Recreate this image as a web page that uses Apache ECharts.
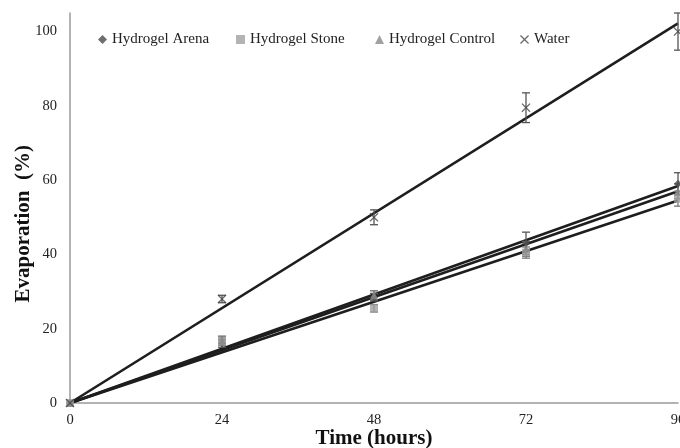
<!DOCTYPE html>
<html>
<head>
<meta charset="utf-8">
<script src="https://cdn.jsdelivr.net/npm/echarts@6/dist/echarts.min.js"></script>
<style>html,body{margin:0;padding:0;background:#fff}#c{width:680px;height:448px}</style>
</head>
<body>
<div id="c"></div>
<script>
var hours = [0, 24, 48, 72, 96];
var xTicks = [0, 24, 48, 72, 96];
var yTicks = [0, 20, 40, 60, 80, 100];
var arena = [0, 16, 28.5, 43, 59];
var arenaErr = [0, 1, 1, 3, 3];
var stone = [0, 16.5, 25.5, 40.5, 55];
var stoneErr = [0, 1, 1, 1.5, 2];
var control = [0, 17, 29, 41.5, 57];
var controlErr = [0, 1, 1.2, 2, 2];
var water = [0, 28, 50, 79.5, 100];
var waterErr = [0, 1, 2, 4, 5];
var names = ['Hydrogel Arena', 'Hydrogel Stone', 'Hydrogel Control', 'Water'];
var legendLeft = [93, 231, 370, 515];

var X_PATH = 'path://M0,1L1,0L5,4L9,0L10,1L6,5L10,9L9,10L5,6L1,10L0,9L4,5Z';
var NB = '\u00a0';

function pts(v) { return hours.map(function (h, i) { return [h, v[i]]; }); }
function errPts(v, e) { return hours.map(function (h, i) { return [h, v[i] - e[i], v[i] + e[i]]; }); }
function trend(v) {
  var sxy = 0, sxx = 0;
  hours.forEach(function (h, i) { sxy += h * v[i]; sxx += h * h; });
  var k = sxy / sxx;
  return [[hours[0], k * hours[0]], [hours[hours.length - 1], k * hours[hours.length - 1]]];
}
function errSeries(v, e, color) {
  return {
    type: 'custom', silent: true, z: 3,
    data: errPts(v, e),
    renderItem: function (params, api) {
      if (api.value(2) - api.value(1) <= 0) return null;
      var lo = api.coord([api.value(0), api.value(1)]);
      var hi = api.coord([api.value(0), api.value(2)]);
      var w = 4;
      var st = { stroke: color, lineWidth: 1.3 };
      return { type: 'group', children: [
        { type: 'line', shape: { x1: lo[0], y1: lo[1], x2: hi[0], y2: hi[1] }, style: st },
        { type: 'line', shape: { x1: lo[0] - w, y1: lo[1], x2: lo[0] + w, y2: lo[1] }, style: st },
        { type: 'line', shape: { x1: hi[0] - w, y1: hi[1], x2: hi[0] + w, y2: hi[1] }, style: st }
      ]};
    }
  };
}
function trendSeries(v) {
  return { type: 'line', data: trend(v), symbol: 'none', silent: true, z: 2,
    lineStyle: { color: '#1e1e1e', width: 2.6 } };
}
var serif = 'Liberation Serif';
var chart = echarts.init(document.getElementById('c'));
chart.setOption({
  animation: false,
  backgroundColor: '#fff',
  textStyle: { fontFamily: serif },
  legend: names.map(function (n, i) {
    return {
      top: 27, left: legendLeft[i], itemWidth: 9, itemHeight: 9,
      textStyle: { fontFamily: serif, fontSize: 15, color: '#222' },
      data: [n]
    };
  }),
  grid: { left: 70, right: 2, top: 13, bottom: 45, containLabel: false, outerBoundsMode: 'none' },
  xAxis: {
    type: 'value', min: 0, max: 96, interval: 24,
    axisLine: { show: true, lineStyle: { color: '#9a9a9a', width: 1.5 } },
    axisTick: { show: false }, splitLine: { show: false },
    axisLabel: { fontFamily: serif, fontSize: 14.5, color: '#222', margin: 10,
      formatter: function (v) { return xTicks.indexOf(v) >= 0 ? String(v) : ''; } },
    name: 'Time (hours)', nameLocation: 'middle', nameGap: 25, nameMoveOverlap: false,
    nameTextStyle: { fontFamily: serif, fontSize: 21, fontWeight: 'bold', color: '#111' }
  },
  yAxis: {
    type: 'value', min: 0, max: 105, interval: 20,
    axisLine: { show: true, onZero: false, lineStyle: { color: '#9a9a9a', width: 1.5 } },
    axisTick: { show: false }, splitLine: { show: false },
    axisLabel: { fontFamily: serif, fontSize: 14.5, color: '#222', margin: 13, showMaxLabel: false,
      formatter: function (v) { return yTicks.indexOf(v) >= 0 ? String(v) : ''; } },
    name: 'Evaporation' + NB + NB + '(%)' + NB + NB + NB + NB + NB + NB,
    nameLocation: 'middle', nameGap: 36, nameMoveOverlap: false,
    nameTextStyle: { fontFamily: serif, fontSize: 21, fontWeight: 'bold', color: '#111' }
  },
  series: [
    trendSeries(arena), trendSeries(stone), trendSeries(control), trendSeries(water),
    errSeries(arena, arenaErr, '#555'), errSeries(stone, stoneErr, '#777'),
    errSeries(control, controlErr, '#666'), errSeries(water, waterErr, '#555'),
    { name: names[0], type: 'scatter', data: pts(arena), symbol: 'diamond', symbolSize: 8, z: 4,
      itemStyle: { color: '#4a4a4a' } },
    { name: names[1], type: 'scatter', data: pts(stone), symbol: 'rect', symbolSize: 8, z: 4,
      itemStyle: { color: '#a0a0a0' } },
    { name: names[2], type: 'scatter', data: pts(control), symbol: 'triangle', symbolSize: 8, z: 4,
      itemStyle: { color: '#8a8a8a' } },
    { name: names[3], type: 'scatter', data: pts(water), symbol: X_PATH, symbolSize: 9, z: 4,
      itemStyle: { color: '#444' } }
  ]
});
</script>
</body>
</html>
